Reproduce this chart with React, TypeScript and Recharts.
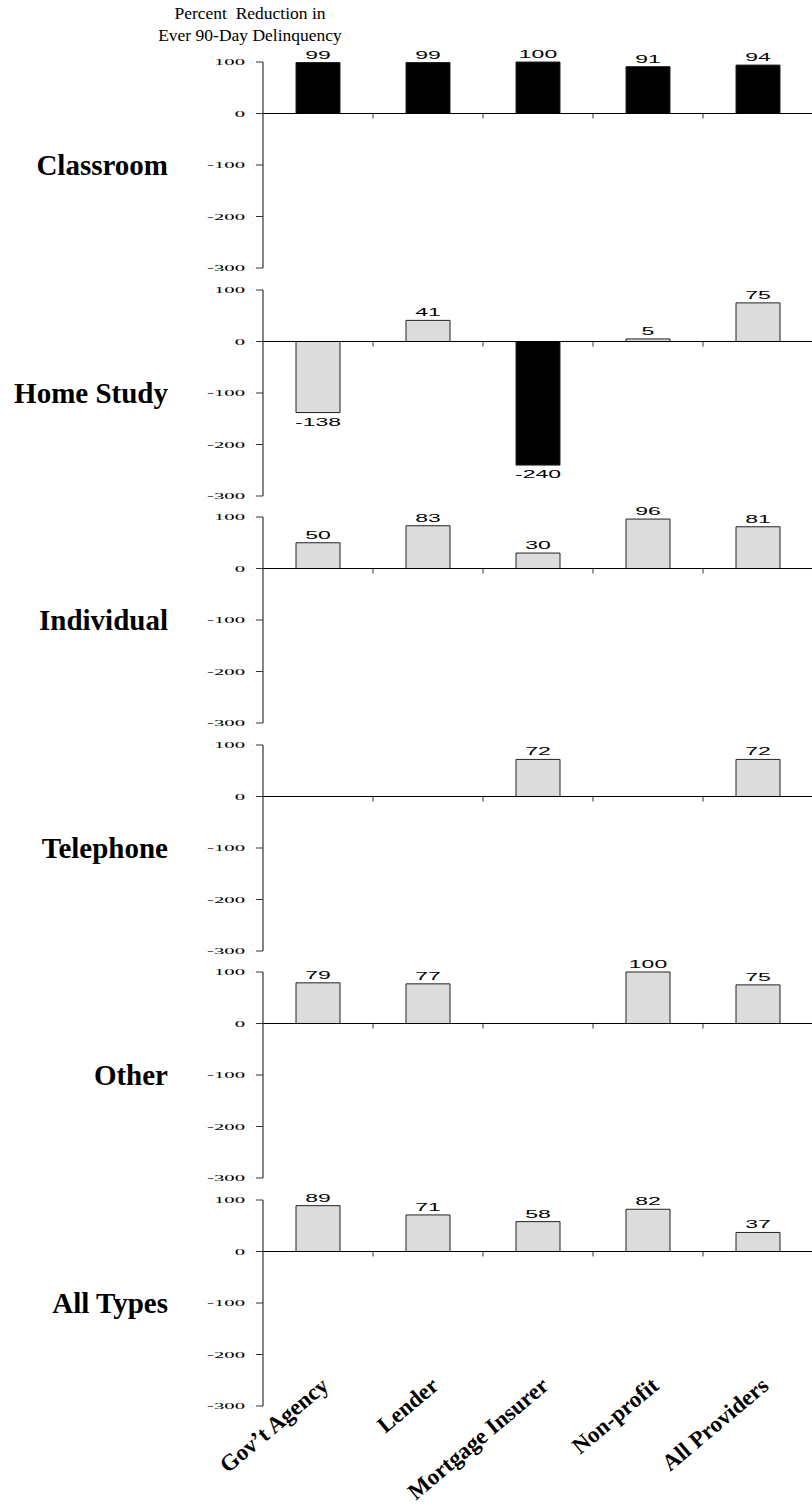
import React from "react";
import { BarChart, Bar, XAxis, YAxis, Cell, LabelList, ReferenceLine } from "recharts";

const categories = ["Gov\u2019t Agency", "Lender", "Mortgage Insurer", "Non-profit", "All Providers"];
const panelNames = ["Classroom", "Home Study", "Individual", "Telephone", "Other", "All Types"];

const classroomValues = [99, 99, 100, 91, 94];
const homeStudyValues = [-138, 41, -240, 5, 75];
const individualValues = [50, 83, 30, 96, 81];
const telephoneValues = [null, null, 72, null, 72];
const otherValues = [79, 77, null, 100, 75];
const allTypesValues = [89, 71, 58, 82, 37];

const classroomHighlight = [true, true, true, true, true];
const homeStudyHighlight = [false, false, true, false, false];
const noHighlight = [false, false, false, false, false];

const yTicks = [100, 0, -100, -200, -300];
const yDomain = [-300, 100];

const panelValues = [classroomValues, homeStudyValues, individualValues, telephoneValues, otherValues, allTypesValues];
const panelHighlights = [classroomHighlight, homeStudyHighlight, noHighlight, noHighlight, noHighlight, noHighlight];

const PLOT_H = 206;
const FIRST_TOP = 62;
const STEP = 227.6;
const MT = 20;

const YTick = (props: any) => {
  const { x, y, payload } = props;
  return (
    <text
      transform={`translate(${x - 9},${y + 3}) scale(2.3,1)`}
      textAnchor="end"
      fontFamily="Liberation Serif"
      fontSize={9}
      fill="#000"
    >
      {String(payload.value)}
    </text>
  );
};

const XTick = (props: any) => {
  const { x, y, payload } = props;
  return (
    <text
      transform={`translate(${x + 12},${y - 26}) rotate(-40)`}
      textAnchor="end"
      fontFamily="Liberation Serif"
      fontWeight="bold"
      fontSize={23}
      fill="#000"
    >
      {payload.value}
    </text>
  );
};

const BarLabel = (props: any) => {
  const { x, y, width, height, value } = props;
  if (value === null || value === undefined) return null;
  const top = Math.min(y, y + height);
  const bottom = Math.max(y, y + height);
  const cx = x + width / 2;
  const by = value < 0 ? bottom + 13 : top - 4;
  return (
    <text
      transform={`translate(${cx},${by}) scale(2.3,1)`}
      textAnchor="middle"
      fontFamily="Liberation Sans"
      fontSize={10}
      fill="#000"
    >
      {String(value)}
    </text>
  );
};

const ZeroLine = (props: any) => {
  const { x1, y1, x2, y2 } = props;
  const n = categories.length;
  const ticks = [];
  for (let k = 1; k < n; k++) {
    const tx = x1 + ((x2 - x1) * k) / n;
    ticks.push(<line key={k} x1={tx} y1={y1} x2={tx} y2={y1 + 5} stroke="#333" strokeWidth={1} />);
  }
  return (
    <g>
      <line x1={x1} y1={y1} x2={x2} y2={y2} stroke="#000" strokeWidth={1.2} />
      {ticks}
    </g>
  );
};

function Panel({ index }: { index: number }) {
  const isLast = index === panelNames.length - 1;
  const values = panelValues[index];
  const hl = panelHighlights[index];
  const data = categories.map((c, i) => ({ cat: c, v: values[i], hl: hl[i] }));
  const plotTop = FIRST_TOP + index * STEP;
  const mb = isLast ? 0 : 12;
  const xh = isLast ? 100 : 0;
  const height = MT + PLOT_H + mb + xh;
  return (
    <div style={{ position: "absolute", left: 0, top: plotTop - MT }}>
      <BarChart width={813} height={height} data={data} margin={{ top: MT, right: 0, bottom: mb, left: 0 }}>
        <XAxis
          dataKey="cat"
          hide={!isLast}
          axisLine={false}
          tickLine={false}
          interval={0}
          height={xh}
          tick={<XTick />}
        />
        <YAxis
          type="number"
          domain={yDomain}
          ticks={yTicks}
          interval={0}
          width={263}
          tickSize={7}
          axisLine={{ stroke: "#333", strokeWidth: 1.2 }}
          tickLine={{ stroke: "#333" }}
          tick={<YTick />}
        />
        <ReferenceLine y={0} shape={ZeroLine} ifOverflow="visible" />
        <Bar dataKey="v" barSize={44} isAnimationActive={false} stroke="#222" strokeWidth={1}>
          {data.map((d, i) => (
            <Cell key={i} fill={d.hl ? "#000000" : "#dcdcdc"} />
          ))}
          <LabelList dataKey="v" content={<BarLabel />} />
        </Bar>
      </BarChart>
      <div
        style={{
          position: "absolute",
          right: 813 - 168,
          top: MT + PLOT_H / 2 - 18,
          height: 36,
          lineHeight: "36px",
          fontFamily: "Liberation Serif",
          fontWeight: "bold",
          fontSize: 29,
          whiteSpace: "nowrap",
          color: "#000",
        }}
      >
        {panelNames[index]}
      </div>
    </div>
  );
}

export default function App() {
  return (
    <div
      style={{
        position: "absolute",
        left: 0,
        top: 0,
        width: 812,
        height: 1506,
        overflow: "hidden",
        background: "#fff",
      }}
    >
      <div
        style={{
          position: "absolute",
          left: 150,
          width: 200,
          top: 2,
          textAlign: "center",
          fontFamily: "Liberation Serif",
          fontSize: 17.5,
          lineHeight: "22px",
          whiteSpace: "pre",
          color: "#000",
        }}
      >
        {"Percent  Reduction in\nEver 90-Day Delinquency"}
      </div>
      {panelNames.map((_, i) => (
        <Panel key={i} index={i} />
      ))}
    </div>
  );
}
